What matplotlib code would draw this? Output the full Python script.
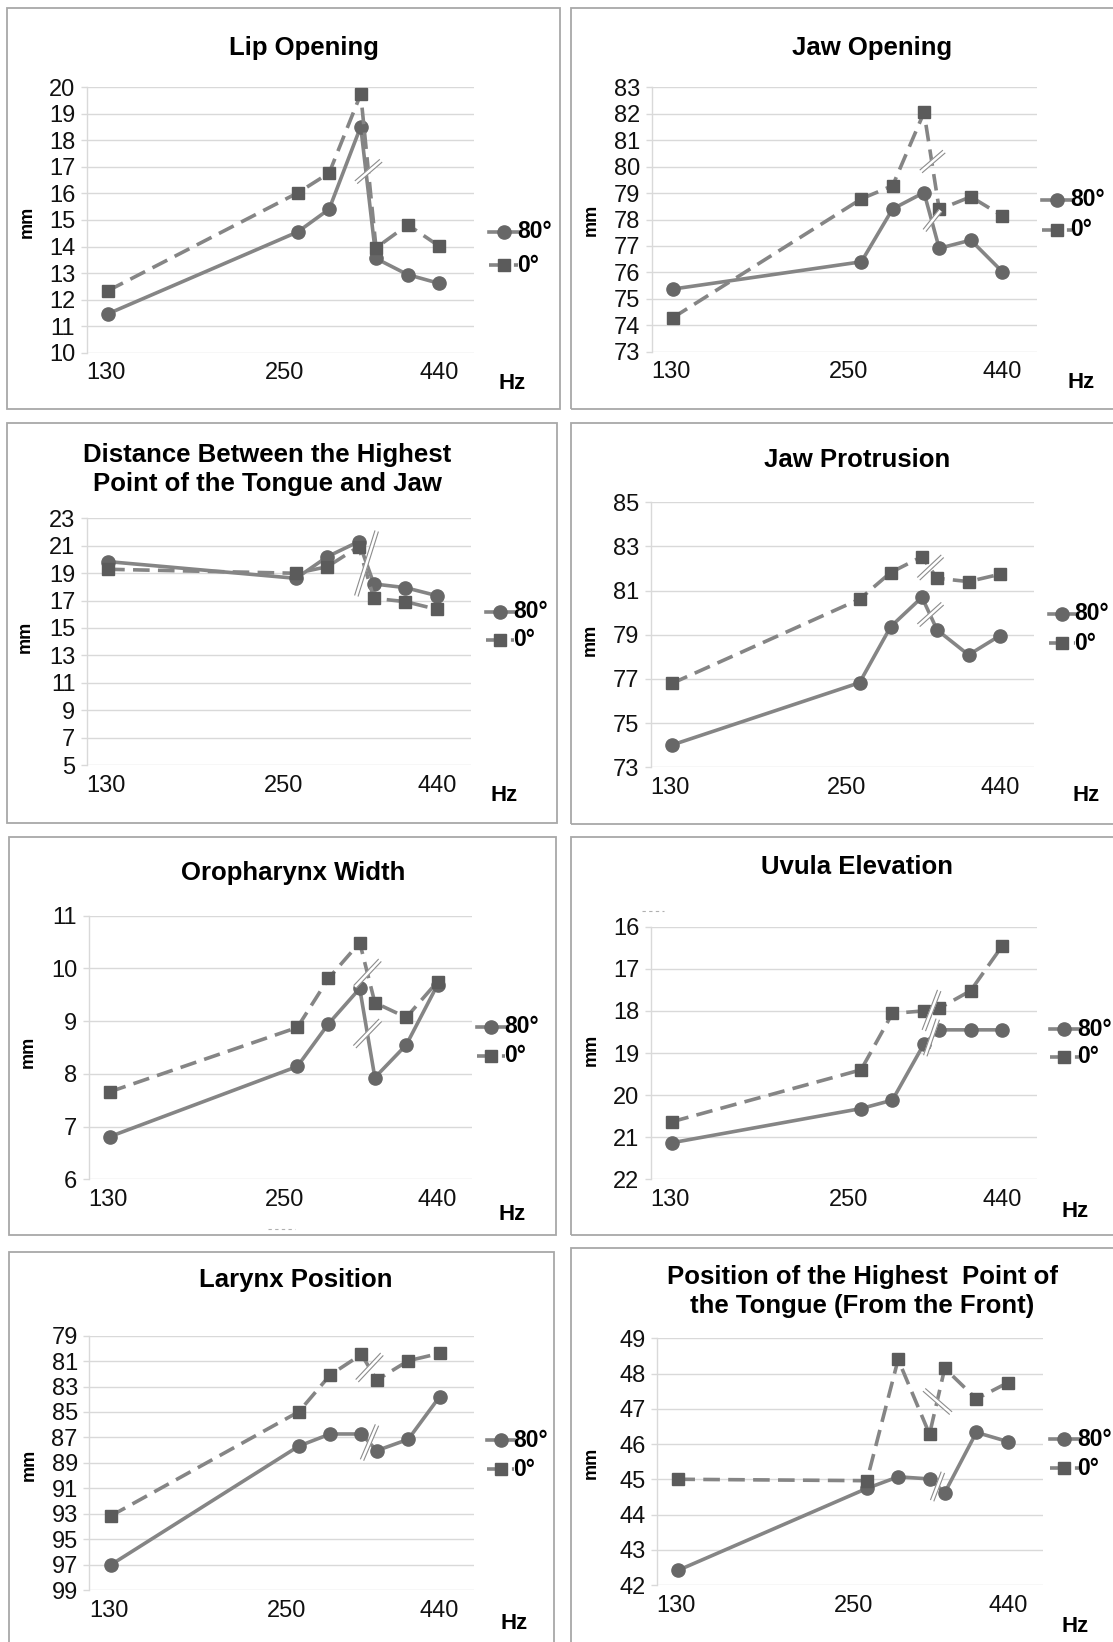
import numpy as np
import matplotlib
matplotlib.use('Agg')
import matplotlib.pyplot as plt
from matplotlib.path import Path
from matplotlib.lines import Line2D
from matplotlib.patches import Rectangle
from matplotlib.ticker import NullLocator

plt.rcParams['font.family'] = ['Liberation Sans', 'DejaVu Sans']

# ---------------- data ----------------
freqs_hz = [131, 262, 294, 330, 349, 392, 440]
xtick_values = [130, 250, 440]
xtick_labels = ['130', '250', '440']
series_labels = ['80°', '0°']
x_unit = 'Hz'
y_unit = 'mm'

lip_80 = [11.47, 14.55, 15.41, 18.52, 13.55, 12.94, 12.61]
lip_0 = [12.34, 16.02, 16.77, 19.74, 13.95, 14.82, 14.01]
jaw_open_80 = [75.37, 76.40, 78.40, 79.02, 76.91, 77.22, 76.03]
jaw_open_0 = [74.29, 78.78, 79.28, 82.05, 78.38, 78.86, 78.14]
dist_80 = [19.84, 18.62, 20.20, 21.30, 18.21, 17.94, 17.36]
dist_0 = [19.28, 18.99, 19.47, 20.93, 17.16, 16.92, 16.36]
jaw_prot_80 = [74.01, 76.83, 79.37, 80.70, 79.22, 78.09, 78.96]
jaw_prot_0 = [76.80, 80.61, 81.82, 82.54, 81.56, 81.41, 81.74]
oro_80 = [6.81, 8.14, 8.95, 9.62, 7.93, 8.55, 9.69]
oro_0 = [7.66, 8.88, 9.81, 10.49, 9.35, 9.07, 9.75]
uvula_80 = [21.13, 20.32, 20.12, 18.79, 18.45, 18.45, 18.45]
uvula_0 = [20.63, 19.40, 18.06, 18.00, 17.94, 17.52, 16.46]
larynx_80 = [97.03, 87.68, 86.73, 86.73, 88.04, 87.15, 83.80]
larynx_0 = [93.18, 84.98, 82.09, 80.47, 82.49, 80.97, 80.39]
tongue_pos_80 = [42.42, 44.74, 45.07, 45.01, 44.62, 46.33, 46.07]
tongue_pos_0 = [45.00, 44.96, 48.40, 46.28, 48.15, 47.28, 47.74]

titles = [
    'Lip Opening',
    'Jaw Opening',
    'Distance Between the Highest\nPoint of the Tongue and Jaw',
    'Jaw Protrusion',
    'Oropharynx Width',
    'Uvula Elevation',
    'Larynx Position',
    'Position of the Highest  Point of\nthe Tongue (From the Front)',
]
values_80 = [lip_80, jaw_open_80, dist_80, jaw_prot_80, oro_80, uvula_80, larynx_80, tongue_pos_80]
values_0 = [lip_0, jaw_open_0, dist_0, jaw_prot_0, oro_0, uvula_0, larynx_0, tongue_pos_0]
y_ranges = [(10, 20, 1), (73, 83, 1), (5, 23, 2), (73, 85, 2),
            (6, 11, 1), (16, 22, 1), (79, 99, 2), (42, 49, 1)]
y_inverted = [False, False, False, False, False, True, True, False]

# ---------------- layout (pixels, y from top) ----------------
W, H = 1113, 1642
DPI = 100
boxes = [(7, 8, 560, 409), (571, 8, 1125, 409),
         (7, 423, 557, 823), (571, 423, 1125, 824),
         (9, 837, 556, 1235), (571, 837, 1125, 1235),
         (9, 1252, 554, 1660), (571, 1248, 1125, 1660)]
axes_px = [(86.7, 87.3, 474.3, 352.7), (651.7, 87.3, 1036.9, 351.7),
           (86.8, 518.3, 471.4, 765.0), (650.7, 502.3, 1034.4, 767.3),
           (88.6, 915.7, 472.1, 1179.3), (651.0, 926.7, 1036.9, 1179.3),
           (89.3, 1335.7, 474.3, 1590.0), (657.0, 1338.3, 1042.5, 1585.0)]
title_pos = [(303.6, 48), (872, 48), (267, 469.5), (857, 460),
             (293.6, 873), (857, 866.7), (295.4, 1280), (862.3, 1291.7)]
mm_pos = [(26.8, 221.7), (591, 220), (25, 636.7), (590, 640),
          (28.6, 1051.7), (591, 1050), (29.3, 1465), (591, 1463.3)]
hz_pos = [(512.5, 383.3), (1081, 383), (503.6, 795), (1085.6, 795),
          (512.5, 1215), (1075, 1211.7), (514, 1623), (1075, 1626.7)]
legend_pos = [(489, 518, 231.7, 265), (1041.5, 1071.5, 200, 230),
              (486, 514, 611.7, 640), (1048.5, 1075, 614, 643.3),
              (477, 505, 1026.7, 1055.7), (1050.3, 1078.5, 1029.3, 1056.7),
              (487.5, 514, 1440, 1469.3), (1050.3, 1078.5, 1439.3, 1468.3)]
# break marks: (series index 0=80°, 1=0°, half-width px, half-height px)
breaks = [
    [(1, 12.5, 10.8)],
    [(1, 11.6, 10.0), (0, 8.0, 10.0)],
    [(0, 10.2, 32.5)],
    [(1, 12.0, 11.3), (0, 12.0, 10.8)],
    [(1, 12.5, 13.3), (0, 12.9, 13.3)],
    [(1, 7.7, 20.0), (0, 6.25, 18.3)],
    [(1, 12.5, 13.3), (0, 7.5, 17.5)],
    [(1, 13.4, -11.7), (0, 5.4, 14.2)],
]

line_gray = '#858585'
circle_c = '#676767'
square_c = '#5b5b5b'
grid_c = '#d9d9d9'
box_c = '#a8a8a8'
dash_pat = (0, (4.6, 2.3))
LW = 2.6
TICK_FS = 17

fig = plt.figure(figsize=(W / DPI, H / DPI), dpi=DPI)


def fx(x):
    return x / W


def fy(y):
    return 1 - y / H


def draw_break(ax, x, y, hx, hy):
    gap = 1.8
    L = np.hypot(hx, hy)
    nx, ny = -hy / L * gap, hx / L * gap
    codes = [Path.MOVETO, Path.LINETO]
    white = Path([(-hx, -hy), (hx, hy)], codes)
    ax.plot([x], [y], marker=white, markersize=2 * max(abs(hx), abs(hy)) * 72 / DPI,
            mec='white', mew=(2 * gap + 0.6) * 72 / DPI, ls='none', zorder=6)
    dv = np.array([(-hx + nx, -hy + ny), (hx + nx, hy + ny),
                   (-hx - nx, -hy - ny), (hx - nx, hy - ny)])
    dbl = Path(dv, codes * 2)
    ax.plot([x], [y], marker=dbl, markersize=2 * np.abs(dv).max() * 72 / DPI,
            mec='#8c8c8c', mew=0.8, ls='none', zorder=7)


for i in range(8):
    bx0, by0, bx1, by1 = boxes[i]
    fig.add_artist(Rectangle((fx(bx0), fy(by1)), fx(bx1 - bx0), (by1 - by0) / H,
                             transform=fig.transFigure, fill=False,
                             edgecolor=box_c, lw=1.3, zorder=0))
    l, t, r, b = axes_px[i]
    ax = fig.add_axes([fx(l), fy(b), fx(r - l), (b - t) / H])
    lo, hi, step = y_ranges[i]
    v80 = values_80[i]
    v0 = values_0[i]
    ax.plot(freqs_hz, v80, color=line_gray, lw=LW, marker='o', ms=9.5,
            mfc=circle_c, mec=circle_c, zorder=3, solid_capstyle='round')
    ax.plot(freqs_hz, v0, color=line_gray, lw=LW, ls=dash_pat, marker='s', ms=9,
            mfc=square_c, mec=square_c, zorder=4)
    ax.set_xscale('log')
    ax.set_xlim(121.1, 500)
    ax.set_xticks(xtick_values)
    ax.set_xticklabels(xtick_labels)
    ax.xaxis.set_minor_locator(NullLocator())
    ax.set_yticks(np.arange(lo, hi + step / 2, step))
    if y_inverted[i]:
        ax.set_ylim(hi, lo)
    else:
        ax.set_ylim(lo, hi)
    ax.yaxis.grid(True, color=grid_c, lw=1.0)
    ax.set_axisbelow(True)
    for s in ['top', 'right', 'bottom']:
        ax.spines[s].set_visible(False)
    ax.spines['left'].set_color(grid_c)
    ax.spines['left'].set_linewidth(1.0)
    ax.tick_params(axis='x', length=0, pad=7, labelsize=TICK_FS, labelcolor='#111111')
    ax.tick_params(axis='y', length=4.3, width=1.0, color=grid_c, pad=4,
                   labelsize=TICK_FS, labelcolor='#111111')
    for lab in ax.get_yticklabels() + ax.get_xticklabels():
        lab.set_clip_on(False)

    for (si, hx, hy) in breaks[i]:
        vals = v80 if si == 0 else v0
        xb = np.sqrt(freqs_hz[3] * freqs_hz[4])
        yb = (vals[3] + vals[4]) / 2
        draw_break(ax, xb, yb, hx, hy)

    tx, ty = title_pos[i]
    fig.text(fx(tx), fy(ty), titles[i], ha='center', va='center', fontsize=18.5,
             fontweight='bold', linespacing=1.25)
    mx, my = mm_pos[i]
    fig.text(fx(mx), fy(my), y_unit, ha='center', va='center', rotation=90,
             fontsize=13, fontweight='bold')
    hxp, hyp = hz_pos[i]
    fig.text(fx(hxp), fy(hyp), x_unit, ha='center', va='center', fontsize=16,
             fontweight='bold')

    lx0, lx1, r1, r2 = legend_pos[i]
    for row_y, lab, style, mk, mc, ms in [(r1, series_labels[0], '-', 'o', circle_c, 9.5),
                                          (r2, series_labels[1], dash_pat, 's', square_c, 9)]:
        fig.add_artist(Line2D([fx(lx0), fx(lx1)], [fy(row_y), fy(row_y)],
                              transform=fig.transFigure, color=line_gray, lw=LW, ls=style))
        fig.add_artist(Line2D([fx((lx0 + lx1) / 2)], [fy(row_y)], transform=fig.transFigure,
                              marker=mk, ms=ms, mfc=mc, mec=mc, ls='none'))
        fig.text(fx(lx1 - 1), fy(row_y), lab, ha='left', va='center', fontsize=16.5,
                 fontweight='bold')

# faint scan artifacts
fig.add_artist(Line2D([fx(642), fx(664)], [fy(910.7), fy(910.7)], transform=fig.transFigure,
                      color='#b0b0b0', lw=0.8, ls=(0, (3, 3))))
fig.add_artist(Line2D([fx(268), fx(295)], [fy(1229), fy(1229)], transform=fig.transFigure,
                      color='#b0b0b0', lw=0.8, ls=(0, (3, 3))))

fig.savefig('out.png', dpi=DPI, facecolor='white')
